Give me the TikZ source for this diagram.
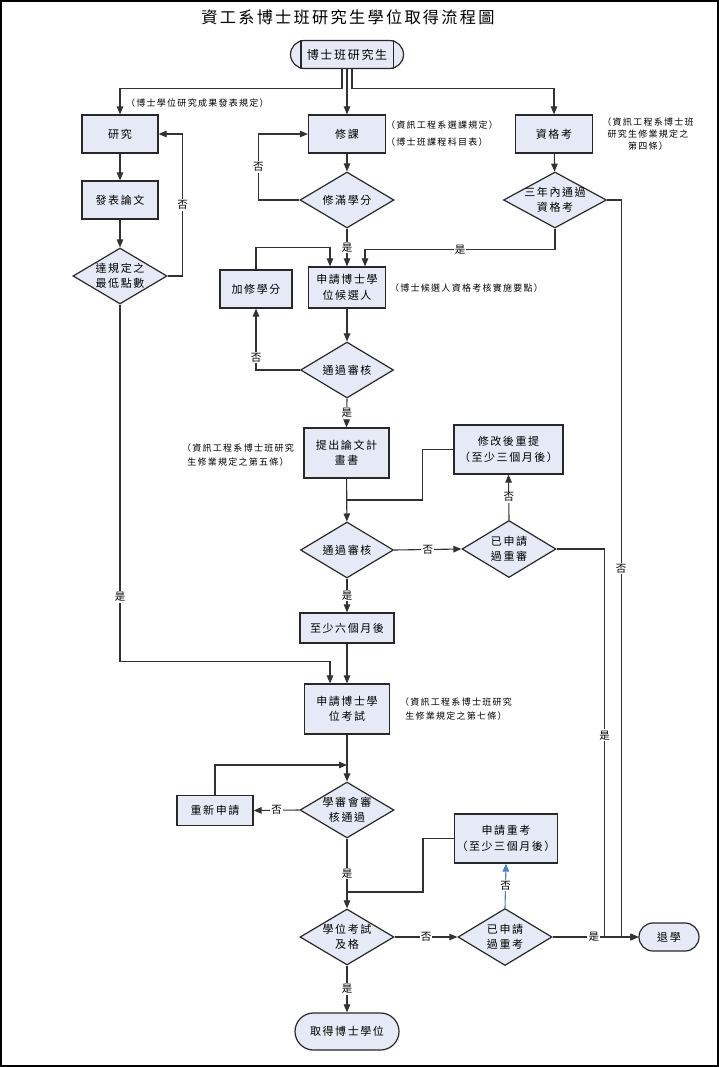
\documentclass[tikz,border=0pt]{standalone}
\usepackage{fontspec}
\setmainfont{Noto Sans CJK TC}[LetterSpace=14]
\usetikzlibrary{shapes.geometric,arrows.meta,calc}
\definecolor{boxfill}{RGB}{230,234,246}
\definecolor{edgec}{RGB}{40,40,40}
\definecolor{linec}{RGB}{50,50,50}
\definecolor{blueline}{RGB}{79,129,189}
\newcommand{\ztext}[1]{\makebox[0pt]{\raisebox{-3.8pt}[0pt][0pt]{\begin{tabular}{@{}c@{}}#1\end{tabular}}}}
\begin{document}
\begin{tikzpicture}[x=1pt,y=-1pt,
  box/.style={draw=edgec, line width=1.2pt, fill=boxfill, inner sep=2pt, align=center, font=\fontsize{11}{15.5}\selectfont, text=black},
  dia/.style={box, diamond, inner sep=0pt, minimum width=94pt, minimum height=56pt},
  term/.style={box, rounded corners=#1},
  note/.style={font=\fontsize{9}{13.5}\selectfont, inner sep=0pt, align=center},
  lbl/.style={fill=white, inner sep=1.2pt, font=\fontsize{10.5}{12}\selectfont},
  conn/.style={draw=linec, line width=1.1pt},
  arr/.style={conn, -{Triangle[length=8pt,width=6.5pt]}}]
\useasboundingbox (0,0) rectangle (719,1067);
\draw[line width=2pt] (1,1) rectangle (718,1066);

\node[font=\fontsize{16.2}{18}\selectfont] (title) at (348,17) {資工系博士班研究生學位取得流程圖};

% nodes
\node[term=14pt, minimum width=113pt, minimum height=28pt, font=\fontsize{12}{14}\selectfont] (start) at (347,54.5) {博士班研究生};
\draw[line width=1.2pt, edgec] ([xshift=11pt]start.north west) -- ([xshift=11pt]start.south west)
  ([xshift=-11pt]start.north east) -- ([xshift=-11pt]start.south east);

\node[box, minimum width=76pt, minimum height=38pt] (yanjiu) at (120,134) {研究};
\node[box, minimum width=76pt, minimum height=38pt] (fabiao) at (120,200) {發表論文};
\node[dia] (d1) at (120,276) {\ztext{達規定之\\最低點數}};
\node[box, minimum width=77pt, minimum height=38pt] (xiuke) at (347,134) {修課};
\node[dia] (d2) at (347,200) {\ztext{修滿學分}};
\node[box, minimum width=77pt, minimum height=38pt] (zige) at (554,134) {資格考};
\node[dia, minimum width=103pt] (d3) at (555,200) {\ztext{三年內通過\\資格考}};
\node[box, minimum width=77pt, minimum height=41pt] (houxuan) at (347,287.5) {申請博士學\\位候選人};
\node[box, minimum width=72pt, minimum height=38pt] (jiaxiu) at (256,289) {加修學分};
\node[dia, minimum width=93pt] (d4) at (347,370) {\ztext{通過審核}};
\node[box, minimum width=85pt, minimum height=50pt] (tichu) at (346.5,453) {提出論文計\\畫書};
\node[box, minimum width=109pt, minimum height=49pt] (xiugai) at (508.5,449.5) {修改後重提\\（至少三個月後）};
\node[dia, minimum width=93pt] (d5) at (347,550) {\ztext{通過審核}};
\node[dia, minimum height=57pt] (d6) at (509,549) {\ztext{已申請\\過重審}};
\node[box, minimum width=94pt, minimum height=30pt] (liuge) at (347,628) {至少六個月後};
\node[box, minimum width=85pt, minimum height=50pt] (kaoshi) at (347,709) {申請博士學\\位考試};
\node[dia] (d7) at (347,810) {\ztext{學審會審\\核通過}};
\node[box, minimum width=76pt, minimum height=30pt] (chongxin) at (215,810.5) {重新申請};
\node[box, minimum width=100pt, minimum height=49pt] (chongkao) at (506,838.5) {申請重考\\（至少三個月後）};
\node[dia] (d8) at (347,937) {\ztext{學位考試\\及格}};
\node[dia, minimum height=57pt] (d9) at (505,937) {\ztext{已申請\\過重考}};
\node[term=14pt, minimum width=60pt, minimum height=28pt] (tuixue) at (669,937) {退學};
\node[term=18.5pt, minimum width=104pt, minimum height=37pt] (qude) at (347,1031.5) {取得博士學位};

% notes
\node[note, anchor=west] (n1) at (126,103) {（博士學位研究成果發表規定）};
\node[note, anchor=west] (n2) at (386,125) {（資訊工程系選課規定）};
\node[note, anchor=west] (n3) at (386,142) {（博士班課程科目表）};
\node[note, font=\fontsize{9}{12}\selectfont] (n4) at (648,134) {（資訊工程系博士班\\研究生修業規定之\\第四條）};
\node[note, anchor=west] (n5) at (390,288) {（博士候選人資格考核實施要點）};
\node[note] (n6) at (238,455) {（資訊工程系博士班研究\\生修業規定之第五條）};
\node[note] (n7) at (456,709) {（資訊工程系博士班研究\\生修業規定之第七條）};

% connectors
\draw[arr] ([xshift=-5pt]start.south) -- ++(0,19) -| (yanjiu.north);
\draw[arr] (start.south) -- (xiuke.north);
\draw[arr] ([xshift=5pt]start.south) -- ++(0,19) -| (zige.north);

\draw[arr] (yanjiu) -- (fabiao);
\draw[arr] (fabiao) -- (d1);
\draw[arr] (d1.east) -- ++(15,0) |- node[lbl,pos=0.25]{否} (yanjiu.east);
\draw[arr] (d1.south) |- node[lbl,pos=0.41]{是} ([xshift=-17pt,yshift=22pt]kaoshi.north) -- ([xshift=-17pt]kaoshi.north);

\draw[arr] (xiuke) -- (d2);
\draw[arr] (d2.west) -- ++(-41,0) |- node[lbl,pos=0.25]{否} (xiuke.west);
\draw[arr] (d2.south) -- node[lbl]{是} (houxuan.north);
\draw[arr] (zige) -- (d3);
\draw[arr] (d3.south) |- node[lbl,pos=0.75]{是} ([xshift=18pt,yshift=17pt]houxuan.north) -- ([xshift=18pt]houxuan.north);
\draw[arr] (d3.east) -- ++(14,0) |- node[lbl,pos=0.25]{否} (tuixue.west);

\draw[arr] (jiaxiu.north) |- ([xshift=-17pt,yshift=19pt]houxuan.north) -- ([xshift=-17pt]houxuan.north);
\draw[arr] (houxuan) -- (d4);
\draw[arr] (d4.west) -| node[lbl,pos=0.6]{否} (jiaxiu.south);
\draw[arr] (d4.south) -- node[lbl]{是} (tichu.north);
\draw[arr] (tichu) -- (d5);
\coordinate (j1) at (347,500);
\draw[conn] (xiugai.west) -- ++(-31,0) |- (j1);
\draw[arr] (d5.east) -- node[lbl]{否} (d6.west);
\draw[arr] (d6.north) -- node[lbl]{否} (xiugai.south);
\draw[arr] (d6.east) -- ++(48,0) |- node[lbl,pos=0.24]{是} (tuixue.west);
\draw[arr] (d5.south) -- node[lbl]{是} (liuge.north);
\draw[arr] (liuge) -- (kaoshi);
\draw[arr] (kaoshi) -- (d7);
\draw[arr] (d7.west) -- node[lbl]{否} (chongxin.east);
\coordinate (j2) at (347,765);
\draw[arr] (chongxin.north) |- (j2);
\draw[arr] (d7.south) -- node[lbl]{是} (d8.north);
\coordinate (j3) at (347,892);
\draw[conn] (chongkao.west) -- ++(-31,0) |- (j3);
\draw[arr] (d8.east) -- node[lbl]{否} (d9.west);
\draw[arr, draw=blueline] (d9.north) -- node[lbl]{否} (chongkao.south);
\draw[arr] (d9.east) -- node[lbl,pos=0.48]{是} (tuixue.west);
\draw[arr] (d8.south) -- node[lbl]{是} (qude.north);
\end{tikzpicture}
\end{document}
